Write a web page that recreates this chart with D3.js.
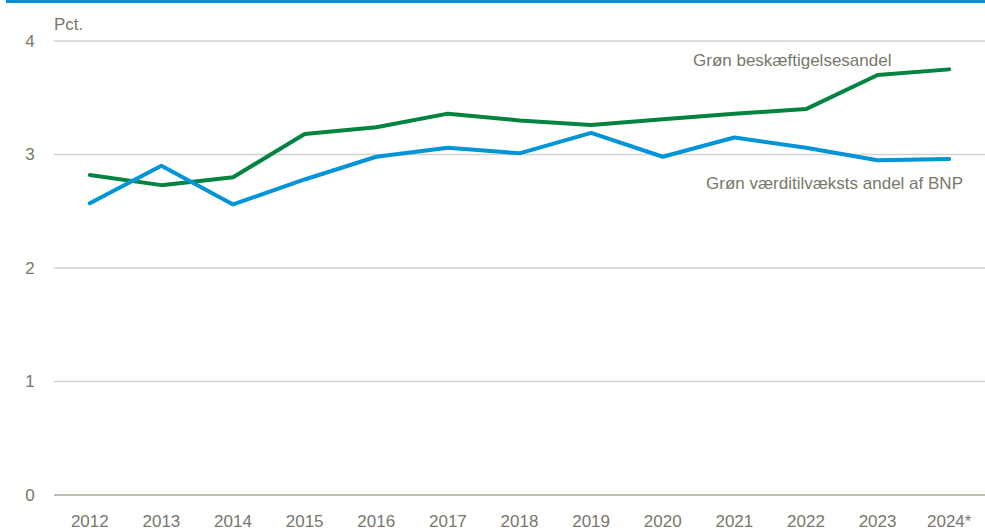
<!DOCTYPE html>
<html>
<head>
<meta charset="utf-8">
<script src="https://cdn.jsdelivr.net/npm/d3@7"></script>
<style>
	body { margin: 0; background: #fff; }
	svg { display: block; font-family: "Liberation Sans", Arial, sans-serif; }
</style>
</head>
<body>
<div id="chart"></div>
<script>
let years = ["2012", "2013", "2014", "2015", "2016", "2017", "2018", "2019", "2020", "2021", "2022", "2023", "2024*"];
let employmentShare = [2.82, 2.73, 2.80, 3.18, 3.24, 3.36, 3.30, 3.26, 3.31, 3.36, 3.40, 3.70, 3.75];
let valueAddedShare = [2.57, 2.90, 2.56, 2.78, 2.98, 3.06, 3.01, 3.19, 2.98, 3.15, 3.06, 2.95, 2.96];
let yTicks = [0, 1, 2, 3, 4];

let width = 985, height = 528;
let TEXT = "#77776b";

let svg = d3.select("#chart").append("svg").
	attr("width", width).
	attr("height", height);

// blue rule at the top
svg.append("rect").
	attr("x", 6).attr("y", 0).
	attr("width", width - 6).attr("height", 3).
	attr("fill", "#0a8fd0");

let x = d3.scaleBand().domain(years).range([54, 985]);
let y = d3.scaleLinear().domain([0, 4]).range([495, 41]);

let grid = svg.append("g");
grid.selectAll("line").
	data(yTicks).
	join("line").
	attr("x1", 54).attr("x2", width).
	attr("y1", d => y(d)).attr("y2", d => y(d)).
	attr("stroke", d => d === 0 ? "#a9a99b" : "#d3d3cb").
	attr("stroke-width", 1.3);

svg.append("g").selectAll("text").
	data(yTicks).
	join("text").
	attr("x", 30).
	attr("y", d => y(d)).
	attr("dy", "0.35em").
	attr("text-anchor", "middle").
	attr("fill", TEXT).
	style("font-size", "17px").
	text(d => d);

svg.append("text").
	attr("x", 54).attr("y", 30).
	attr("fill", TEXT).
	style("font-size", "17px").
	text("Pct.");

svg.append("g").selectAll("text").
	data(years).
	join("text").
	attr("x", d => x(d) + x.bandwidth() / 2).
	attr("y", 527).
	attr("text-anchor", "middle").
	attr("fill", TEXT).
	style("font-size", "17px").
	text(d => d);

let line = d3.line().
	x((d, i) => x(years[i]) + x.bandwidth() / 2).
	y(d => y(d));

let series = [
	{ values: employmentShare, color: "#00843f" },
	{ values: valueAddedShare, color: "#0094d8" }
];

svg.append("g").selectAll("path").
	data(series).
	join("path").
	attr("d", d => line(d.values)).
	attr("fill", "none").
	attr("stroke", d => d.color).
	attr("stroke-width", 4).
	attr("stroke-linecap", "round").
	attr("stroke-linejoin", "round");

svg.append("text").
	attr("x", 693).attr("y", 66).
	attr("fill", TEXT).
	style("font-size", "17px").
	text("Grøn beskæftigelsesandel");

svg.append("text").
	attr("x", 706).attr("y", 189).
	attr("fill", TEXT).
	style("font-size", "17px").
	text("Grøn værditilvæksts andel af BNP");
</script>
</body>
</html>
